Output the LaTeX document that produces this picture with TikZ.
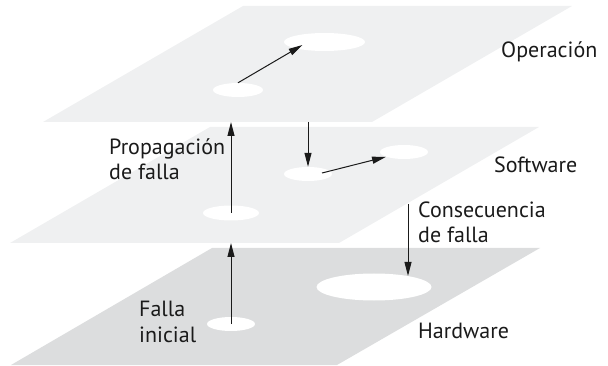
\documentclass[tikz,border=0pt]{standalone}
\usepackage{fontspec}
\setmainfont{PT Sans}
\usepackage{xcolor}
\definecolor{cPlane}{HTML}{EFF0F1}
\definecolor{cBase}{HTML}{DCDDDE}
\definecolor{cInk}{HTML}{1A1A1A}
\usetikzlibrary{positioning,arrows.meta,shapes.geometric,calc}
\tikzset{
  layer-plane/.style={fill=cPlane,draw=none},
  layer-base/.style={fill=cBase,draw=none},
  spot/.style={ellipse,fill=white,draw=none,inner sep=0pt},
  arrow/.style={-{Triangle[length=14pt,width=7pt]},line width=1pt,draw=cInk},
  label-text/.style={font=\fontsize{22}{25.5}\selectfont,align=left,
    text=cInk,inner sep=0pt},
}

\begin{document}
\begin{tikzpicture}[x=1pt,y=-1pt]
  \useasboundingbox (0,0) rectangle (608,366);
  % las tres capas
  \fill[layer-plane] (43,122) -- (243,6) -- (572,6) -- (372,122) -- cycle;
  \fill[layer-plane] (10,243) -- (210,127) -- (539,127) -- (339,243) -- cycle;
  \fill[layer-base]  (11,365) -- (212,248) -- (540,248) -- (337,365) -- cycle;
  % puntos de falla
  \node[spot,minimum width=81pt,minimum height=18pt]  (op-b) at (324.5,42) {};
  \node[spot,minimum width=50pt,minimum height=14pt]  (op-a) at (238,90)   {};
  \node[spot,minimum width=48pt,minimum height=14pt]  (sw-b) at (404,152)  {};
  \node[spot,minimum width=48pt,minimum height=14pt]  (sw-a) at (308,174)  {};
  \node[spot,minimum width=56pt,minimum height=15pt]  (sw-c) at (231,213)  {};
  \node[spot,minimum width=115pt,minimum height=27pt] (hw-b) at (374,287)  {};
  \node[spot,minimum width=48pt,minimum height=14pt]  (hw-a) at (231,324)  {};
  \coordinate (op-bottom) at (231,122);
  \coordinate (sw-bottom) at (231,243);
  \coordinate (sw-exit)   at (408,204);
  % textos (base = ultima linea)
  \node[label-text,anchor=base west] (op-lbl)   at (501,58)  {Operación};
  \node[label-text,anchor=base west] (sw-lbl)   at (494,173) {Software};
  \node[label-text,anchor=base west] (hw-lbl)   at (418,338) {Hardware};
  \node[label-text,anchor=base west] (prop-lbl) at (109,180) {Propagación\\de falla};
  \node[label-text,anchor=base west] (cons-lbl) at (418,243) {Consecuencia\\de falla};
  \node[label-text,anchor=base west] (ini-lbl)  at (139,342) {Falla\\inicial};
  % flechas
  \draw[arrow] (op-a.north) -- ($(op-b.center)+(-22,3)$);
  \draw[arrow] (sw-c.center) -- (op-bottom);
  \draw[arrow] (sw-a.north |- op-bottom) -- (sw-a.north);
  \draw[arrow] ($(sw-a.center)+(14,-1)$) -- (sw-b.195);
  \draw[arrow] (hw-a.center) -- (sw-bottom);
  \draw[arrow] (sw-exit) -- (sw-exit |- hw-b.18);
\end{tikzpicture}
\end{document}
